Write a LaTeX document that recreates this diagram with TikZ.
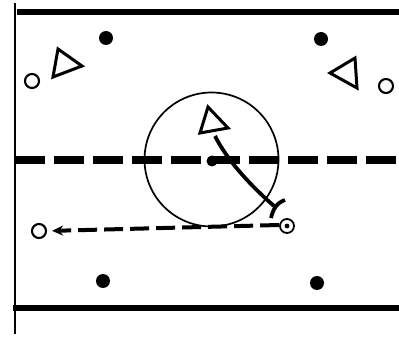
\documentclass[tikz,border=0pt]{standalone}
\usetikzlibrary{arrows.meta}
\begin{document}
\begin{tikzpicture}[x=1pt,y=-1pt,
  player/.style={circle,draw,line width=2.1pt,minimum size=14pt,inner sep=0pt},
  blob/.style={circle,fill,minimum size=14pt,inner sep=0pt},
  tri/.style={line width=3pt,line join=miter},
  boundary/.style={line width=5.5pt}]
\useasboundingbox (0,0) rectangle (399,342);
% court lines
\coordinate (tl) at (17,12); \coordinate (tr) at (399,12);
\coordinate (bl) at (13,308); \coordinate (br) at (399,308);
\coordinate (vt) at (15,3); \coordinate (vb) at (15,334);
\coordinate (ml) at (15,160); \coordinate (mr) at (399,160);
\draw[boundary] (tl) -- (tr);
\draw[line width=6.5pt] (bl) -- (br);
\draw[line width=2.4pt] (vt) -- (vb);
\draw[line width=8.5pt,dash pattern=on 30pt off 9pt] (ml) -- (mr);
% center circle
\node[circle,draw,line width=1.7pt,minimum size=134pt,inner sep=0pt] (ring) at (211.5,159.5) {};
\node[blob,minimum size=11pt] (cdot) at (212,161) {};
% dots
\node[blob] (d1) at (106,38) {};
\node[blob] (d2) at (321,39) {};
\node[blob] (d3) at (103,281) {};
\node[blob] (d4) at (317,283) {};
% players
\node[player] (p1) at (32,81) {};
\node[player] (p2) at (386,86) {};
\node[player] (p3) at (39,231) {};
% triangles
\draw[tri] (58,49) -- (53,77) -- (82,66) -- cycle;
\draw[tri] (355,58) -- (330,73) -- (357,88) -- cycle;
\draw[tri] (208,107) -- (200,133) -- (228,128) -- cycle;
\coordinate (t3) at (215,136);
% movement with stop bar
\coordinate (stop) at (274,206);
\coordinate (barA) at (271,218);
\coordinate (barB) at (285,200);
\draw[line width=3.8pt] (t3) .. controls (227,160) and (250,185) .. (stop);
\draw[line width=3.8pt] (barA) .. controls (273,210) and (276,203) .. (barB);
% target
\node[circle,draw,line width=1.8pt,minimum size=14pt,inner sep=0pt] (tg) at (287,226) {};
\fill (tg.center) circle (2.4pt);
% dashed pass
\draw[line width=4pt,dash pattern=on 19pt off 7pt,shorten >=5pt,-{Stealth[length=11pt,width=10pt]}] ([yshift=1pt]tg.west) -- (p3.east);
\end{tikzpicture}
\end{document}
